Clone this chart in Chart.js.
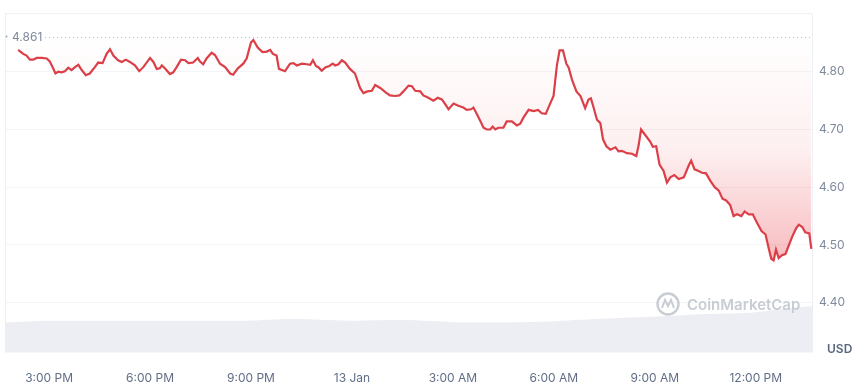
<!DOCTYPE html>
<html>
<head>
<meta charset="utf-8">
<script src="https://cdn.jsdelivr.net/npm/chart.js@4/dist/chart.umd.min.js"></script>
<style>
  html, body { margin: 0; padding: 0; background: #fff; }
  #wrap { width: 860px; height: 389px; }
</style>
</head>
<body>
<div id="wrap"><canvas id="main-chart" width="860" height="389"></canvas></div>
<script>
// time in hours since 12 Jan 00:00 (15 = 3:00 PM, 24 = 13 Jan, 36 = 12:00 PM)
const priceTimes = [
	14.08, 14.23, 14.33, 14.43, 14.53, 14.63, 14.78, 14.93, 15.02, 15.12, 15.19, 15.27, 15.37, 15.47, 15.57, 15.67,
	15.77, 15.87, 15.97, 16.09, 16.21, 16.36, 16.46, 16.59, 16.71, 16.81, 16.91, 17.05, 17.16, 17.28, 17.40, 17.55,
	17.68, 17.80, 18.00, 18.10, 18.20, 18.29, 18.35, 18.44, 18.59, 18.69, 18.79, 18.92, 19.04, 19.14, 19.28, 19.42,
	19.48, 19.58, 19.68, 19.83, 19.93, 20.08, 20.23, 20.38, 20.47, 20.61, 20.77, 20.87, 21.00, 21.07, 21.20, 21.34,
	21.47, 21.57, 21.65, 21.76, 21.83, 22.01, 22.16, 22.26, 22.36, 22.51, 22.66, 22.76, 22.84, 22.93, 23.00, 23.10,
	23.22, 23.33, 23.43, 23.50, 23.60, 23.70, 23.80, 23.94, 24.09, 24.24, 24.34, 24.46, 24.59, 24.69, 24.84, 25.01,
	25.13, 25.28, 25.41, 25.53, 25.68, 25.78, 25.88, 26.03, 26.12, 26.27, 26.42, 26.55, 26.67, 26.77, 26.87, 27.02,
	27.16, 27.31, 27.41, 27.54, 27.61, 27.71, 27.81, 27.91, 28.01, 28.11, 28.18, 28.26, 28.35, 28.50, 28.60, 28.75,
	28.90, 29.00, 29.10, 29.25, 29.40, 29.53, 29.64, 29.76, 29.86, 29.99, 30.09, 30.17, 30.27, 30.37, 30.44, 30.54,
	30.67, 30.79, 30.93, 31.03, 31.10, 31.18, 31.28, 31.38, 31.46, 31.56, 31.68, 31.83, 31.92, 32.02, 32.17, 32.32,
	32.45, 32.52, 32.59, 32.72, 32.86, 32.94, 33.04, 33.14, 33.26, 33.36, 33.46, 33.58, 33.71, 33.86, 34.01, 34.08,
	34.18, 34.30, 34.40, 34.52, 34.65, 34.78, 34.90, 35.01, 35.12, 35.24, 35.34, 35.44, 35.57, 35.67, 35.79, 35.91,
	36.04, 36.17, 36.29, 36.38, 36.46, 36.53, 36.60, 36.68, 36.78, 36.88, 36.98, 37.08, 37.20, 37.28, 37.38, 37.47,
	37.59, 37.65
];
const prices = [
	4.838, 4.831, 4.828, 4.821, 4.821, 4.824, 4.824, 4.823, 4.818, 4.806, 4.797, 4.800, 4.799, 4.801, 4.807, 4.803,
	4.808, 4.812, 4.803, 4.794, 4.797, 4.808, 4.816, 4.815, 4.831, 4.839, 4.828, 4.820, 4.817, 4.821, 4.817, 4.811,
	4.801, 4.808, 4.824, 4.817, 4.805, 4.806, 4.811, 4.806, 4.796, 4.799, 4.808, 4.821, 4.820, 4.815, 4.816, 4.824,
	4.818, 4.813, 4.823, 4.833, 4.829, 4.814, 4.808, 4.797, 4.795, 4.806, 4.814, 4.823, 4.851, 4.855, 4.842, 4.834,
	4.835, 4.838, 4.831, 4.828, 4.805, 4.801, 4.814, 4.815, 4.811, 4.814, 4.813, 4.812, 4.820, 4.810, 4.808, 4.802,
	4.808, 4.810, 4.814, 4.811, 4.813, 4.820, 4.816, 4.805, 4.797, 4.772, 4.763, 4.766, 4.767, 4.777, 4.772, 4.764,
	4.759, 4.758, 4.759, 4.766, 4.776, 4.775, 4.767, 4.766, 4.759, 4.755, 4.750, 4.755, 4.752, 4.744, 4.735, 4.745,
	4.741, 4.738, 4.734, 4.735, 4.738, 4.727, 4.715, 4.703, 4.700, 4.700, 4.705, 4.700, 4.703, 4.703, 4.714, 4.714,
	4.707, 4.710, 4.721, 4.734, 4.732, 4.734, 4.728, 4.727, 4.741, 4.758, 4.811, 4.837, 4.837, 4.814, 4.807, 4.786,
	4.766, 4.758, 4.737, 4.752, 4.754, 4.738, 4.717, 4.711, 4.683, 4.671, 4.665, 4.669, 4.662, 4.663, 4.659, 4.658,
	4.654, 4.673, 4.700, 4.690, 4.679, 4.670, 4.671, 4.639, 4.628, 4.608, 4.617, 4.621, 4.614, 4.617, 4.638, 4.646,
	4.631, 4.628, 4.625, 4.624, 4.611, 4.600, 4.594, 4.580, 4.577, 4.569, 4.550, 4.553, 4.550, 4.558, 4.553, 4.553,
	4.538, 4.524, 4.518, 4.495, 4.476, 4.473, 4.492, 4.477, 4.482, 4.484, 4.499, 4.514, 4.529, 4.535, 4.531, 4.522,
	4.520, 4.493
];
const volumeTimes = [13.69, 15.02, 16.51, 18.00, 19.48, 20.97, 22.16, 23.05, 23.94, 25.43, 26.32, 27.22, 28.41, 29.89, 31.38, 32.87, 34.36, 35.84, 37.03, 37.70];
const volumes = [31.0, 32.7, 32.7, 32.7, 32.7, 32.7, 34.4, 33.7, 32.7, 33.4, 32.4, 31.0, 31.0, 32.0, 34.7, 36.7, 39.4, 41.0, 45.4, 47.7];
const referencePrice = 4.861;
const xTickValues = [15, 18, 21, 24, 27, 30, 33, 36];
const xTickLabels = ['3:00 PM', '6:00 PM', '9:00 PM', '13 Jan', '3:00 AM', '6:00 AM', '9:00 AM', '12:00 PM'];
const yTickValues = [4.40, 4.50, 4.60, 4.70, 4.80];

const FONT = 'Inter, "Noto Sans", sans-serif';

// frame, reference line, watermark, currency
const decor = {
	id: 'decor',
	beforeDatasetsDraw(chart) {
		const { ctx, chartArea: a, scales } = chart;
		ctx.save();
		ctx.strokeStyle = '#eceff3';
		ctx.lineWidth = 1;
		ctx.beginPath();
		ctx.moveTo(a.left + 0.5, a.bottom);
		ctx.lineTo(a.left + 0.5, a.top + 0.5);
		ctx.lineTo(a.right - 0.5, a.top + 0.5);
		ctx.lineTo(a.right - 0.5, a.bottom);
		ctx.stroke();

		const y = Math.round(scales.y.getPixelForValue(referencePrice)) + 0.5;
		ctx.strokeStyle = '#b5bcc9';
		ctx.setLineDash([1, 3]);
		ctx.beginPath();
		ctx.moveTo(a.left + 40, y);
		ctx.lineTo(a.right, y);
		ctx.stroke();
		ctx.setLineDash([]);

		ctx.fillStyle = '#9aa3b3';
		ctx.beginPath();
		ctx.arc(a.left + 1.5, y - 1, 1, 0, Math.PI * 2);
		ctx.fill();
		ctx.fillStyle = '#808a9d';
		ctx.font = '12px ' + FONT;
		ctx.textBaseline = 'middle';
		ctx.textAlign = 'left';
		ctx.fillText(referencePrice.toFixed(3), a.left + 7, y);
		ctx.restore();
	},
	afterDatasetsDraw(chart) {
		const { ctx, chartArea: a } = chart;
		ctx.save();
		// watermark
		const cx = 668, cy = 304;
		ctx.strokeStyle = '#c8ccd3';
		ctx.lineWidth = 2.4;
		ctx.beginPath();
		ctx.arc(cx, cy, 10.5, 0, Math.PI * 2);
		ctx.stroke();
		ctx.lineWidth = 2;
		ctx.beginPath();
		ctx.moveTo(cx - 6, cy + 4);
		ctx.lineTo(cx - 3, cy - 4);
		ctx.lineTo(cx, cy + 2);
		ctx.lineTo(cx + 3, cy - 4);
		ctx.lineTo(cx + 6, cy + 4);
		ctx.stroke();
		ctx.fillStyle = '#c8ccd3';
		ctx.font = '600 15px ' + FONT;
		ctx.textBaseline = 'middle';
		ctx.textAlign = 'left';
		ctx.fillText('CoinMarketCap', 687, cy + 1);

		ctx.fillStyle = '#58667e';
		ctx.font = '600 12px ' + FONT;
		ctx.fillText('USD', a.right + 14, 349);
		ctx.restore();
	}
};

function priceFill(context) {
	const { chart } = context;
	const { ctx, chartArea, scales } = chart;
	if (!chartArea) return 'rgba(234,57,67,0.1)';
	const y0 = scales.y.getPixelForValue(referencePrice);
	const y1 = scales.y.getPixelForValue(4.47);
	const g = ctx.createLinearGradient(0, y0, 0, y1);
	g.addColorStop(0, 'rgba(234,57,67,0)');
	g.addColorStop(0.5, 'rgba(234,57,67,0.08)');
	g.addColorStop(1, 'rgba(234,57,67,0.34)');
	return g;
}

const ctx = document.getElementById('main-chart');
const chart = new Chart(ctx, {
	type: 'line',
	data: {
		datasets: [
			{
				label: 'Price',
				data: priceTimes.map((t, i) => ({ x: t, y: prices[i] })),
				borderColor: '#db3f48',
				borderWidth: 2.2,
				pointRadius: 0,
				tension: 0,
				fill: { value: referencePrice },
				backgroundColor: priceFill,
				yAxisID: 'y',
				order: 1
			},
			{
				label: 'Volume',
				data: volumeTimes.map((t, i) => ({ x: t, y: volumes[i] })),
				borderWidth: 0,
				borderColor: 'rgba(0,0,0,0)',
				backgroundColor: '#eceef3',
				pointRadius: 0,
				tension: 0.3,
				fill: 'origin',
				yAxisID: 'yv',
				order: 2
			}
		]
	},
	options: {
		responsive: false,
		animation: false,
		devicePixelRatio: 1,
		layout: { padding: { left: 5, top: 5, right: 0, bottom: 0 } },
		plugins: {
			legend: { display: false },
			tooltip: { enabled: false }
		},
		scales: {
			x: {
				type: 'linear',
				min: 13.69,
				max: 37.70,
				afterBuildTicks(scale) {
					scale.ticks = xTickValues.map(v => ({ value: v }));
				},
				afterFit(scale) { scale.height = 36.3; },
				ticks: {
					callback(value) {
						const i = xTickValues.indexOf(value);
						return i >= 0 ? xTickLabels[i] : '';
					},
					autoSkip: false,
					maxRotation: 0,
					color: '#616e85',
					font: { family: FONT, size: 12 },
					padding: 10
				},
				grid: { display: false },
				border: { display: false }
			},
			y: {
				position: 'right',
				min: 4.3132,
				max: 4.9015,
				afterBuildTicks(scale) {
					scale.ticks = yTickValues.map(v => ({ value: v }));
				},
				afterFit(scale) { scale.width = 47; },
				ticks: {
					callback: v => v.toFixed(2),
					color: '#808a9d',
					font: { family: FONT, size: 12 },
					padding: 6
				},
				grid: { color: '#f3f4f7', drawTicks: false },
				border: { display: false }
			},
			yv: {
				display: false,
				min: 0,
				max: 347.7
			}
		}
	},
	plugins: [decor]
});
</script>
</body>
</html>
